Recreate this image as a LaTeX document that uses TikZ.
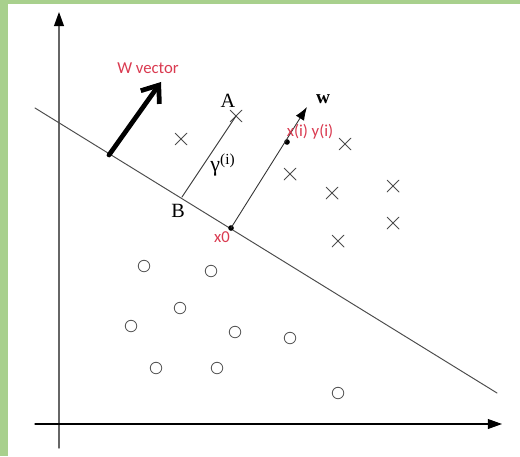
\documentclass[tikz,border=0pt]{standalone}
\usepackage{fontspec}
\setmainfont{Liberation Serif}
\newfontfamily\notefont{Carlito}
\usetikzlibrary{arrows.meta,shapes.misc}
\definecolor{frame}{RGB}{168,208,141}
\definecolor{notered}{RGB}{218,58,80}
\begin{document}
\begin{tikzpicture}[x=0.02cm, y=-0.02cm, line cap=round, line join=round,
    xmark/.style={cross out, draw=black!70, minimum size=0.22cm, inner sep=0pt, line width=0.5pt},
    omark/.style={circle, draw=black!65, minimum size=0.23cm, inner sep=0pt, line width=0.5pt},
    axis/.style={line width=0.6pt, -{Triangle[length=8pt, width=5.6pt, color=black]}},
    lbl/.style={font=\fontsize{11.5}{13}\selectfont, inner sep=1pt},
    note/.style={text=notered, font=\notefont\fontsize{9.5}{11}\selectfont, inner sep=1pt},
    dot/.style={circle, fill=black, minimum size=3.2pt, inner sep=0pt}]
  \useasboundingbox (0,0) rectangle (520,456);
  \fill[white] (0,0) rectangle (520,456);
  \fill[frame] (0,0) rectangle (8,456);
  \fill[frame] (0,0) rectangle (520,4);
  % axes
  \coordinate (ybot) at (59,448);
  \coordinate (ytop) at (59,12);
  \coordinate (xleft) at (35,424);
  \coordinate (xright) at (502,424);
  \draw[axis, draw=black!60, line width=0.8pt] (ybot) -- (ytop);
  \draw[axis] (xleft) -- (xright);
  % separating line
  \coordinate (s1) at (35,108);
  \coordinate (s2) at (497,393);
  \draw[black!70, line width=0.55pt] (s1) -- (s2);
  % W vector
  \coordinate (wbase) at (109,155);
  \coordinate (wtip) at (161,82);
  \draw[line width=2.7pt, -{Straight Barb[length=8.5pt, width=13pt]}] (wbase) -- (wtip);
  \node[note] (wname) at (148,68) {W vector};
  % crosses
  \node[xmark] (c1) at (236,116) {};
  \node[xmark] (c2) at (181,139) {};
  \node[xmark] (c3) at (345,144) {};
  \node[xmark] (c4) at (290,174) {};
  \node[xmark] (c5) at (332,193) {};
  \node[xmark] (c6) at (393,186) {};
  \node[xmark] (c7) at (393,223) {};
  \node[xmark] (c8) at (338,241) {};
  % circles
  \node[omark] (o1) at (144,266) {};
  \node[omark] (o2) at (211,271) {};
  \node[omark] (o3) at (180,308) {};
  \node[omark] (o4) at (131,326) {};
  \node[omark] (o5) at (235,332) {};
  \node[omark] (o6) at (290,338) {};
  \node[omark] (o7) at (156,368) {};
  \node[omark] (o8) at (217,368) {};
  \node[omark] (o9) at (338,393) {};
  % margin gamma
  \coordinate (B) at (182,197);
  \draw[black!80, line width=0.5pt] (B) -- (c1.center);
  \node[lbl] (Alabel) at (228,101) {A};
  \node[lbl] (Blabel) at (178,211) {B};
  \node[lbl, font=\fontsize{12.5}{14}\selectfont] (gamma) at (223,165) {γ\textsuperscript{(i)}};
  % w through x0
  \node[dot] (x0) at (231,228) {};
  \node[dot] (xi) at (287,142) {};
  \coordinate (wend) at (307,107);
  \draw[black!80, line width=0.5pt, -{Latex[length=7.5pt, width=5.5pt, color=black]}] (x0.center) -- (wend);
  \node[lbl, font=\bfseries\fontsize{11}{13}\selectfont] (wlabel) at (323,99) {w};
  \node[note] (x0label) at (222,237) {x0};
  \node[note] (xilabel) at (310,132) {x(i) y(i)};
\end{tikzpicture}
\end{document}
